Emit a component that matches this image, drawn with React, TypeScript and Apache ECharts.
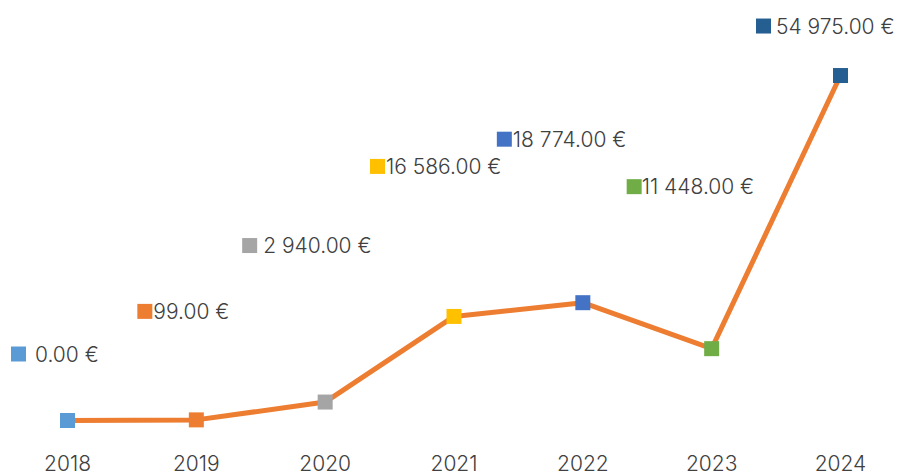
import React, { useEffect, useRef } from "react";
import * as echarts from "echarts";

const years = ["2018", "2019", "2020", "2021", "2022", "2023", "2024"];
const values = [0, 99, 2940, 16586, 18774, 11448, 54975];
const labelTexts = ["0.00 €", "99.00 €", "2 940.00 €", "16 586.00 €", "18 774.00 €", "11 448.00 €", "54 975.00 €"];
const markerColors = ["#5B9BD5", "#ED7D31", "#A5A5A5", "#FFC000", "#4472C4", "#70AD47", "#255E91"];
const labelOffsets: [number, number][] = [
  [-56.5, -66.5],
  [-59, -108.5],
  [-83, -156.5],
  [-84, -150],
  [-86, -163.5],
  [-85, -162],
  [-84.5, -49.5],
];
const labelGaps = [9, 1, 6, 1, 1, 0, 5];

export default function App() {
  const ref = useRef<HTMLDivElement>(null);
  useEffect(() => {
    if (!ref.current) return;
    const chart = echarts.init(ref.current, null, { renderer: "svg" });
    const font = "Inter, Lato, 'Noto Sans', sans-serif";
    const data = values.map((v, i) => ({
      value: v,
      itemStyle: { color: markerColors[i] },
      label: {
        show: true,
        position: "inside",
        align: "left",
        verticalAlign: "middle",
        offset: labelOffsets[i],
        formatter: "{sq|}{g|}{t|" + labelTexts[i] + "}",
        rich: {
          sq: { width: 15, height: 15, backgroundColor: markerColors[i], verticalAlign: "middle" },
          g: { width: labelGaps[i], height: 15, verticalAlign: "middle" },
          t: {
            fontSize: 21,
            fontFamily: font,
            fontWeight: 300,
            color: "#404040",
            verticalAlign: "middle",
          },
        },
      },
    }));
    chart.setOption({
      animation: false,
      backgroundColor: "#ffffff",
      grid: { left: 67.5, right: 57.5, top: 44, bottom: 53.5 },
      xAxis: {
        type: "category",
        data: years,
        boundaryGap: false,
        axisLine: { show: false },
        axisTick: { show: false },
        axisLabel: {
          margin: 32,
          fontSize: 21,
          fontFamily: font,
          fontWeight: 300,
          color: "#404040",
        },
      },
      yAxis: {
        type: "value",
        min: 0,
        max: 60000,
        interval: 10000,
        show: false,
        splitLine: { show: false },
      },
      series: [
        {
          type: "line",
          data,
          clip: false,
          symbol: "rect",
          symbolSize: 15,
          lineStyle: { color: "#ED7D31", width: 5, cap: "round", join: "round" },
          emphasis: { disabled: true },
          z: 2,
        },
      ],
    });
    return () => chart.dispose();
  }, []);
  return (
    <div
      ref={ref}
      style={{ position: "fixed", left: 0, top: 0, width: 898, height: 474 }}
    />
  );
}
